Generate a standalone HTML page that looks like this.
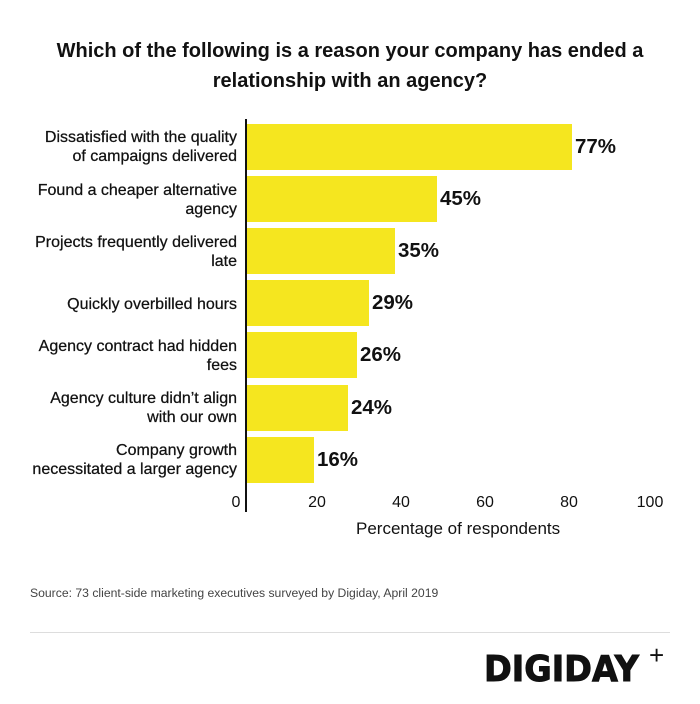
<!DOCTYPE html>
<html><head><style>
body{margin:0;width:700px;height:704px;background:#fff;font-family:"Liberation Sans",Arial,sans-serif;position:relative;overflow:hidden;color:#111}
.t{position:absolute;left:0;width:700px;text-align:center;top:36px;font-size:20px;font-weight:bold;line-height:30px}
.lab{position:absolute;right:463px;text-align:right;font-size:16px;line-height:19px;width:240px;white-space:nowrap;-webkit-text-stroke:0.25px #111}
.bar{position:absolute;left:247px;height:46px;background:#f5e61f}
.val{position:absolute;font-size:20.5px;font-weight:bold;line-height:20px}
.tk{position:absolute;top:494px;font-size:16px;width:40px;text-align:center}
</style></head><body>
<div class="t">Which of the following is a reason your company has ended a<br>relationship with an agency?</div>
<div style="position:absolute;left:245px;top:119px;width:2px;height:393px;background:#111"></div>

<div class="bar" style="top:124px;width:325px"></div><div class="val" style="left:575px;top:137px">77%</div>
<div class="bar" style="top:176px;width:190px"></div><div class="val" style="left:440px;top:189px">45%</div>
<div class="bar" style="top:228px;width:148px"></div><div class="val" style="left:398px;top:241px">35%</div>
<div class="bar" style="top:280px;width:122px"></div><div class="val" style="left:372px;top:293px">29%</div>
<div class="bar" style="top:332px;width:110px"></div><div class="val" style="left:360px;top:345px">26%</div>
<div class="bar" style="top:385px;width:101px"></div><div class="val" style="left:351px;top:398px">24%</div>
<div class="bar" style="top:437px;width:67px"></div><div class="val" style="left:317px;top:450px">16%</div>

<div class="lab" style="top:128px">Dissatisfied with the quality<br>of campaigns delivered</div>
<div class="lab" style="top:181px">Found a cheaper alternative<br>agency</div>
<div class="lab" style="top:233px">Projects frequently delivered<br>late</div>
<div class="lab" style="top:295px">Quickly overbilled hours</div>
<div class="lab" style="top:337px">Agency contract had hidden<br>fees</div>
<div class="lab" style="top:389px">Agency culture didn’t align<br>with our own</div>
<div class="lab" style="top:441px">Company growth<br>necessitated a larger agency</div>

<div class="tk" style="left:216px">0</div>
<div class="tk" style="left:297px">20</div>
<div class="tk" style="left:381px">40</div>
<div class="tk" style="left:465px">60</div>
<div class="tk" style="left:549px">80</div>
<div class="tk" style="left:630px">100</div>
<div style="position:absolute;left:356px;top:519px;font-size:17px">Percentage of respondents</div>
<div style="position:absolute;left:30px;top:586px;font-size:12.2px;color:#444">Source: 73 client-side marketing executives surveyed by Digiday, April 2019</div>
<div style="position:absolute;left:30px;top:632px;width:640px;height:1px;background:#ddd"></div>
<div style="position:absolute;left:484px;top:649px;font-size:36px;font-weight:900;letter-spacing:0px;font-family:'DejaVu Sans','Liberation Sans',sans-serif;transform:scaleX(0.93);transform-origin:left;color:#111;-webkit-text-stroke:1px #111">DIGIDAY</div>
<div style="position:absolute;left:649px;top:640px;font-size:26px;font-weight:100;color:#111">+</div>
</body></html>
